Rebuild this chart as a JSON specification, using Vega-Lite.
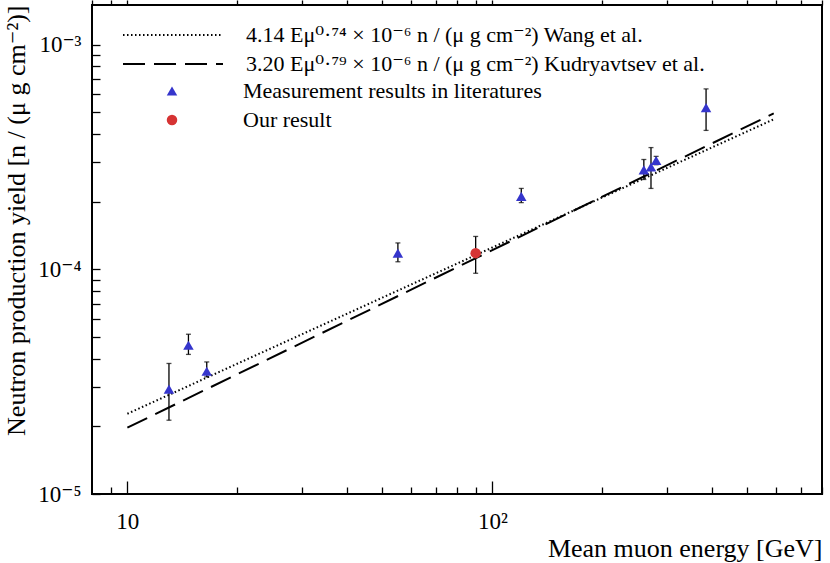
{
  "$schema": "https://vega.github.io/schema/vega-lite/v6.json",
  "width": 730,
  "height": 489,
  "autosize": "none",
  "padding": {"left": 92, "top": 5, "right": 8, "bottom": 69},
  "background": "white",
  "config": {
    "font": "Liberation Serif",
    "view": {"stroke": "black", "strokeWidth": 2},
    "axis": {"domain": false, "grid": false, "labelFont": "Liberation Serif, DejaVu Serif", "titleFont": "Liberation Serif, DejaVu Serif", "labelColor": "black", "titleColor": "black", "tickColor": "black", "labelFontSize": 23, "titleFontSize": 26, "titleFontWeight": "normal", "tickWidth": 1.3},
    "legend": {"labelFont": "Liberation Serif, DejaVu Serif", "labelFontSize": 22, "labelColor": "black", "labelLimit": 0, "title": null, "rowPadding": 6}
  },
  "datasets": {
    "lines": [
      {"series": "Wang", "E": 10, "Y": 2.275e-5},
      {"series": "Wang", "E": 100, "Y": 1.25e-4},
      {"series": "Wang", "E": 590, "Y": 4.65e-4},
      {"series": "Kudryavtsev", "E": 10, "Y": 1.973e-5},
      {"series": "Kudryavtsev", "E": 100, "Y": 1.217e-4},
      {"series": "Kudryavtsev", "E": 590, "Y": 4.94e-4}
    ],
    "points": [
      {"series": "Literature", "E": 13.0, "Y": 2.93e-5, "lo": 2.13e-5, "hi": 3.81e-5},
      {"series": "Literature", "E": 14.7, "Y": 4.59e-5, "lo": 4.18e-5, "hi": 5.14e-5},
      {"series": "Literature", "E": 16.5, "Y": 3.52e-5, "lo": 3.32e-5, "hi": 3.87e-5},
      {"series": "Literature", "E": 55.1, "Y": 1.18e-4, "lo": 1.08e-4, "hi": 1.31e-4},
      {"series": "Literature", "E": 120, "Y": 2.11e-4, "lo": 1.98e-4, "hi": 2.29e-4},
      {"series": "Literature", "E": 260, "Y": 2.77e-4, "lo": 2.51e-4, "hi": 3.08e-4},
      {"series": "Literature", "E": 272, "Y": 2.85e-4, "lo": 2.29e-4, "hi": 3.48e-4},
      {"series": "Literature", "E": 281, "Y": 3.05e-4, "lo": 2.92e-4, "hi": 3.18e-4},
      {"series": "Literature", "E": 385, "Y": 5.24e-4, "lo": 4.15e-4, "hi": 6.35e-4},
      {"series": "Ours", "E": 90, "Y": 1.18e-4, "lo": 9.6e-5, "hi": 1.4e-4}
    ]
  },
  "resolve": {"axis": {"x": "independent"}},
  "layer": [
    {
      "data": {"name": "lines"},
      "mark": {"type": "line", "strokeWidth": 2, "color": "black"},
      "encoding": {
        "x": {
          "field": "E", "type": "quantitative",
          "scale": {"type": "log", "domain": [8, 800], "nice": false},
          "axis": {"orient": "bottom", "values": [10, 100], "tickSize": -13, "labelPadding": 29, "labelExpr": "datum.value == 10 ? '10' : '10²'", "title": "Mean muon energy [GeV]", "titleAnchor": "end", "titleAlign": "right", "titlePadding": 2}
        },
        "y": {
          "field": "Y", "type": "quantitative",
          "title": "Neutron production yield [n / (μ g cm⁻²)]",
          "scale": {"type": "log", "domain": [1e-5, 1.5e-3], "nice": false},
          "axis": {
            "orient": "left",
            "values": [1e-5, 2e-5, 3e-5, 4e-5, 5e-5, 6e-5, 7e-5, 8e-5, 9e-5, 1e-4, 2e-4, 3e-4, 4e-4, 5e-4, 6e-4, 7e-4, 8e-4, 9e-4, 1e-3],
            "tickSize": -8, "labelPadding": 19,
            "labelExpr": "datum.value == 1e-5 ? '10⁻⁵' : datum.value == 1e-4 ? '10⁻⁴' : datum.value == 1e-3 ? '10⁻³' : ''",
            "titleAnchor": "end", "titlePadding": 8
          }
        },
        "strokeDash": {
          "field": "series", "type": "nominal",
          "scale": {"domain": ["Wang", "Kudryavtsev"], "range": [[1.5, 2.5], [22, 9]]},
          "legend": {
            "orient": "none", "legendX": 70, "legendY": 19, "rowPadding": 7,
            "symbolType": "M-5,0H5", "symbolSize": 400, "symbolStrokeWidth": 2, "symbolStrokeColor": "black", "symbolFillColor": "transparent",
            "labelOffset": 62,
            "labelExpr": "datum.label == 'Wang' ? '4.14 Eμ⁰·⁷⁴ × 10⁻⁶ n / (μ g cm⁻²) Wang et al.' : '3.20 Eμ⁰·⁷⁹ × 10⁻⁶ n / (μ g cm⁻²) Kudryavtsev et al.'"
          }
        }
      }
    },
    {
      "data": {"name": "points"},
      "mark": {"type": "errorbar", "ticks": true, "color": "black", "thickness": 1.3},
      "encoding": {
        "x": {"field": "E", "type": "quantitative", "axis": {"orient": "bottom", "values": [9, 20, 30, 40, 50, 60, 70, 80, 90, 200, 300, 400, 500, 600, 700, 800], "tickSize": -7, "labels": false, "title": null}},
        "y": {"field": "lo", "type": "quantitative", "title": "Neutron production yield [n / (μ g cm⁻²)]"},
        "y2": {"field": "hi"}
      }
    },
    {
      "data": {"name": "points"},
      "mark": {"type": "point", "filled": true, "opacity": 1, "size": 110},
      "encoding": {
        "x": {"field": "E", "type": "quantitative"},
        "y": {"field": "Y", "type": "quantitative", "title": "Neutron production yield [n / (μ g cm⁻²)]"},
        "color": {
          "field": "series", "type": "nominal",
          "scale": {"domain": ["Literature", "Ours"], "range": ["#3535cc", "#d63333"]},
          "legend": {
            "orient": "none", "legendX": 69, "legendY": 75, "rowPadding": 7,
            "symbolSize": 110, "labelOffset": 60,
            "labelExpr": "datum.label == 'Literature' ? 'Measurement results in literatures' : 'Our result'"
          }
        },
        "shape": {
          "field": "series", "type": "nominal",
          "scale": {"domain": ["Literature", "Ours"], "range": ["triangle-up", "circle"]},
          "legend": {
            "orient": "none", "legendX": 69, "legendY": 75, "rowPadding": 7,
            "symbolSize": 110, "labelOffset": 60,
            "labelExpr": "datum.label == 'Literature' ? 'Measurement results in literatures' : 'Our result'"
          }
        }
      }
    }
  ]
}
